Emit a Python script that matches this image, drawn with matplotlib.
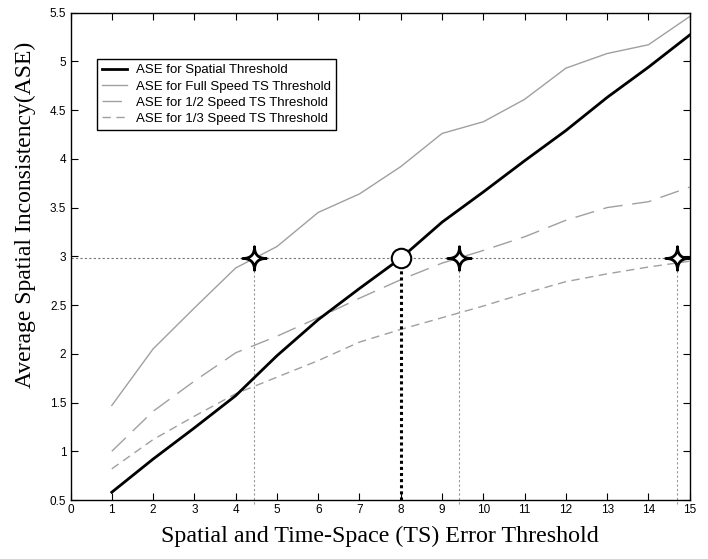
import numpy as np
import matplotlib
matplotlib.use('Agg')
import matplotlib.pyplot as plt
from matplotlib.path import Path

thresholds = [1, 2, 3, 4, 5, 6, 7, 8, 9, 10, 11, 12, 13, 14, 15]
ase_spatial = [0.58, 0.92, 1.24, 1.57, 1.98, 2.35, 2.67, 2.98, 3.35, 3.66, 3.98, 4.29, 4.63, 4.94, 5.27]
ase_full = [1.47, 2.05, 2.47, 2.88, 3.10, 3.45, 3.64, 3.92, 4.26, 4.38, 4.61, 4.93, 5.08, 5.17, 5.46]
ase_half = [1.00, 1.41, 1.72, 2.01, 2.18, 2.37, 2.57, 2.76, 2.93, 3.06, 3.20, 3.37, 3.50, 3.56, 3.71]
ase_third = [0.82, 1.12, 1.36, 1.59, 1.76, 1.93, 2.12, 2.25, 2.37, 2.49, 2.62, 2.74, 2.82, 2.89, 2.95]

ase_level = 2.98
spatial_cross = 8
ts_cross = [4.45, 9.4, 14.7]

# four pointed star marker (thin arms)
t = np.linspace(0, 2 * np.pi, 200)
sx = np.sign(np.cos(t)) * np.abs(np.cos(t)) ** 4
sy = np.sign(np.sin(t)) * np.abs(np.sin(t)) ** 4
star = Path(np.column_stack([sx, sy]), closed=True)

plt.rcParams['font.family'] = ['Liberation Sans', 'DejaVu Sans']
fig = plt.figure(figsize=(7.08, 5.59), dpi=100)
ax = fig.add_axes([0.0996, 0.1055, 0.8746, 0.872])

ax.plot(thresholds, ase_spatial, color='black', lw=2, label='ASE for Spatial Threshold', zorder=4)
ax.plot(thresholds, ase_full, color='#a0a0a0', lw=1, label='ASE for Full Speed TS Threshold')
ax.plot(thresholds, ase_half, color='#a0a0a0', lw=1, dashes=(14, 7), label='ASE for 1/2 Speed TS Threshold')
ax.plot(thresholds, ase_third, color='#a0a0a0', lw=1, dashes=(6, 4), label='ASE for 1/3 Speed TS Threshold')

ax.plot([0, 15], [ase_level, ase_level], color='#777777', lw=0.8, ls=(0, (2, 2)), zorder=2)
for xc in ts_cross:
    ax.plot([xc, xc], [0.46, ase_level], color='#999999', lw=0.8, ls=(0, (2, 2)), clip_on=False, zorder=2)
ax.plot([spatial_cross, spatial_cross], [0.5, ase_level], color='black', lw=2.2, ls=(0, (1, 1)), zorder=3)

ax.plot(ts_cross, [ase_level] * 3, ls='none', marker=star, ms=17, mfc='white', mec='black', mew=2, zorder=6)
ax.plot([spatial_cross], [ase_level], ls='none', marker='o', ms=14, mfc='white', mec='black', mew=1.5, zorder=6)

ax.set_xlim(0, 15)
ax.set_ylim(0.5, 5.5)
ax.set_xticks(range(0, 16))
yt = np.arange(0.5, 5.51, 0.5)
ax.set_yticks(yt)
ax.set_yticklabels(['%g' % v for v in yt])
ax.tick_params(direction='in', top=True, right=True, labelsize=8.5, length=5, pad=3)
for s in ax.spines.values():
    s.set_linewidth(1)

ax.set_xlabel('Spatial and Time-Space (TS) Error Threshold', family='Liberation Serif', fontsize=17.3, labelpad=7)
ax.set_ylabel('Average Spatial Inconsistency(ASE)', family='Liberation Serif', fontsize=17)
ax.yaxis.set_label_coords(-0.055, 0.585)

leg = ax.legend(loc='upper left', bbox_to_anchor=(0.042, 0.905), fontsize=9.5, fancybox=False,
                edgecolor='black', framealpha=1, handlelength=1.9, handletextpad=0.7,
                borderpad=0.4, labelspacing=0.3, borderaxespad=0)
leg.get_frame().set_linewidth(1)

fig.savefig('out.png', dpi=100)
